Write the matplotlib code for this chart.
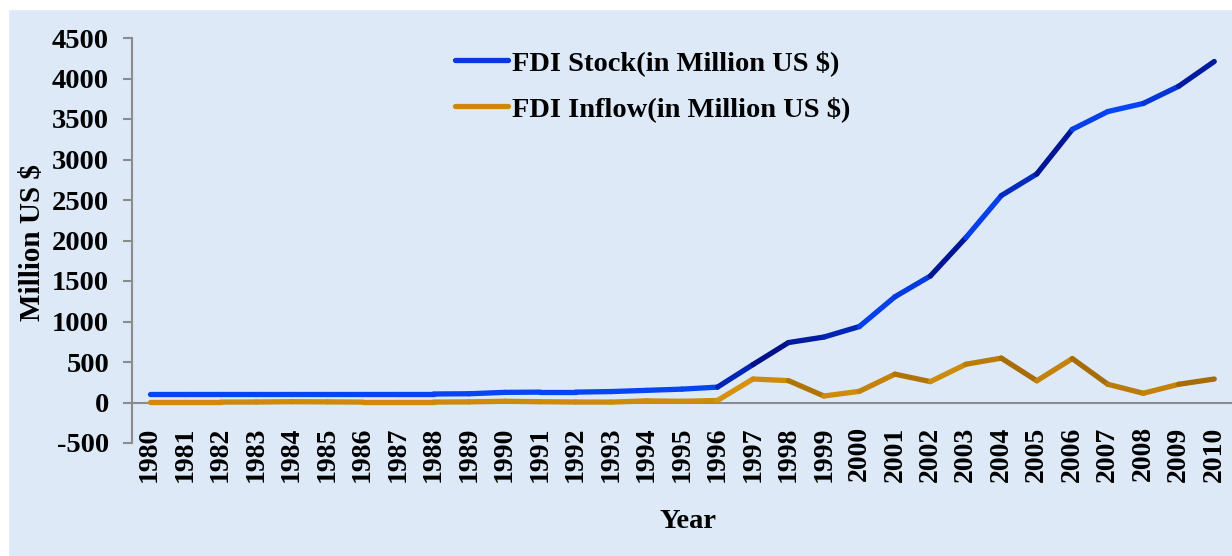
import numpy as np
import matplotlib
matplotlib.use("Agg")
import matplotlib.pyplot as plt
from matplotlib.collections import LineCollection
from matplotlib.lines import Line2D
from matplotlib.colors import to_rgb

plt.rcParams['font.family'] = ['Liberation Serif', 'DejaVu Serif']
plt.rcParams['font.weight'] = 'bold'
plt.rcParams['axes.unicode_minus'] = False

years = [str(y) for y in range(1980, 2011)]
fdi_stock = [105, 105, 105, 105, 105, 105, 105, 105, 105, 108, 125, 128, 128, 135, 150, 165, 190,
             468, 740, 808, 938, 1305, 1562, 2035, 2555, 2822, 3372, 3592, 3692, 3905, 4210]
fdi_inflow = [5, 5, 5, 6, 10, 8, 5, 5, 5, 8, 15, 10, 6, 5, 20, 15, 25,
              290, 270, 80, 138, 350, 258, 472, 548, 268, 542, 225, 114, 225, 290]

# shading of each segment (0 = light, 1 = dark), mimics the bevel look of the original
stock_shade = [0.0] * 16 + [0.6, 1.0, 0.8, 0.6, 0.1, 0.2, 0.9, 0.1, 0.5, 0.9, 0.1, 0.0, 0.3, 0.8]
inflow_shade = [0.3] * 16 + [0.2, 0.3, 0.6, 0.3, 0.4, 0.6, 0.3, 0.5, 0.7, 0.4, 0.7, 0.5, 0.4, 0.7]

bg = '#dde9f7'


def shade_colors(light, dark, shades):
    a, b = np.array(to_rgb(light)), np.array(to_rgb(dark))
    return [tuple(a + (b - a) * s) for s in shades]


def draw_line(ax, values, light, dark, shades, lw):
    x = np.arange(len(values))
    pts = np.column_stack([x, values])
    segs = np.stack([pts[:-1], pts[1:]], axis=1)
    lc = LineCollection(segs, colors=shade_colors(light, dark, shades), linewidths=lw,
                        capstyle='round', joinstyle='round', zorder=3)
    ax.add_collection(lc)


fig = plt.figure(figsize=(12.32, 5.56), dpi=100)
fig.patch.set_facecolor(bg)
# white margin on top / left like the original crop
fig.add_artist(plt.Rectangle((0, 1 - 9 / 556), 1, 9 / 556, transform=fig.transFigure, color='white', zorder=0))
fig.add_artist(plt.Rectangle((0, 0), 8 / 1232, 1, transform=fig.transFigure, color='white', zorder=0))

ax = fig.add_axes([132 / 1232, 1 - 443 / 556, 1 - 132 / 1232, (443 - 38) / 556])
ax.set_facecolor(bg)

draw_line(ax, fdi_inflow, '#eaa010', '#8a5600', inflow_shade, 3.8)
draw_line(ax, fdi_stock, '#0645f5', '#00108a', stock_shade, 3.8)

ax.axhline(0, color='#8c8c8c', lw=1.5, zorder=2)

ax.set_xlim(-0.5, len(years) - 0.5)
ax.set_ylim(-500, 4500)
ax.set_yticks(range(-500, 4501, 500))
ax.set_xticks(range(len(years)))
ax.set_xticklabels(years, rotation=90, va='top', ha='center')

for s in ['top', 'right', 'bottom']:
    ax.spines[s].set_visible(False)
ax.spines['left'].set_color('#8c8c8c')
ax.spines['left'].set_linewidth(1.5)

ax.tick_params(axis='y', direction='out', length=6.5, width=1.5, color='#8c8c8c',
               labelsize=20.5, pad=10)
ax.tick_params(axis='x', length=0, labelsize=20, pad=-12)
for lab in ax.get_xticklabels() + ax.get_yticklabels():
    lab.set_fontweight('bold')

fig.text(33 / 1232, 1 - 243 / 556, 'Million US $', rotation=90, ha='center', va='center',
         fontsize=21, fontweight='bold')
fig.text(688 / 1232, 1 - 521 / 556, 'Year', ha='center', va='center', fontsize=20.5, fontweight='bold')

handles = [Line2D([], [], color='#0a36e0', lw=3.8, solid_capstyle='round'),
           Line2D([], [], color='#cc880a', lw=3.8, solid_capstyle='round')]
fig.legend(handles, ['FDI Stock(in Million US $)', 'FDI Inflow(in Million US $)'],
           loc='upper left', bbox_to_anchor=(455 / 1232, 1 - 50 / 556), frameon=False,
           prop={'size': 20.5, 'weight': 'bold'}, handlelength=1.85, handletextpad=0.15,
           labelspacing=0.72, borderpad=0, borderaxespad=0)

fig.savefig('out.png', dpi=100, facecolor=fig.get_facecolor())
